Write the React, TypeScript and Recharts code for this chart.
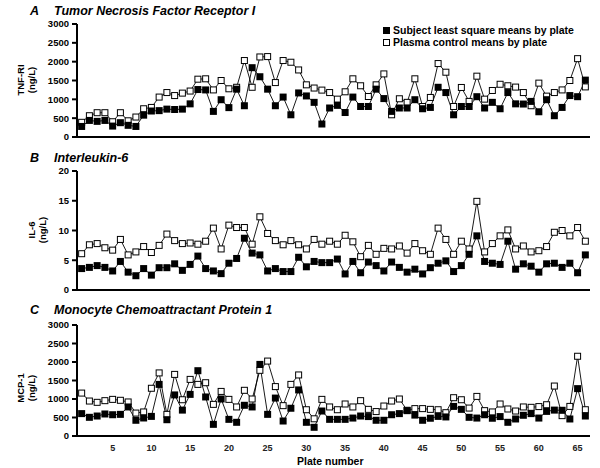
import React from 'react';
import { LineChart, Line, XAxis, YAxis } from 'recharts';

// ─── Data ────────────────────────────────────────────────────────────────────

const plates = Array.from({ length: 66 }, (_, i) => i + 1);

const tnfSubject = [
  280, 440, 415, 440, 290, 380, 310, 280, 580, 690,
  700, 740, 730, 740, 880, 1260, 1250, 680, 990, 780,
  1270, 830, 1840, 1600, 1270, 830, 1060, 590, 1170, 1090,
  920, 345, 770, 840, 650, 1060, 810, 810, 1270, 1020,
  680, 770, 770, 990, 750, 785, 1320, 1180, 590, 810,
  810, 1070, 770, 920, 750, 1180, 880, 875, 945, 670,
  990, 565, 785, 1100, 1070, 1510,
];
const tnfControl = [
  390, 565, 645, 645, 405, 645, 430, 530, 750, 785,
  1060, 1180, 1100, 1165, 1220, 1535, 1545, 1250, 1500, 1280,
  1320, 2030, 1320, 2125, 2135, 1445, 2030, 1985, 1780, 1385,
  1300, 1245, 1180, 1005, 1200, 1545, 1360, 1075, 1385, 1675,
  590, 1015, 920, 1545, 810, 1050, 1950, 1720, 810, 1315,
  945, 1615, 1005, 1235, 1400, 1360, 1325, 1180, 830, 1430,
  1085, 1180, 1250, 1500, 2080, 1330,
];

const il6Subject = [
  3.6, 3.8, 4.1, 3.8, 3.2, 4.8, 3.0, 2.4, 3.6, 2.5,
  3.75, 3.75, 4.4, 3.3, 4.3, 5.7, 3.6, 3.2, 2.75, 4.5,
  5.3, 8.7, 6.2, 5.9, 3.2, 3.6, 3.1, 3.1, 5.5, 3.9,
  4.8, 4.6, 4.6, 5.2, 2.7, 4.8, 2.9, 4.7, 4.1, 3.2,
  4.7, 3.8, 3.0, 3.5, 2.7, 3.75, 4.5, 4.9, 3.1, 4.1,
  6.0, 9.1, 4.8, 4.5, 4.3, 8.2, 3.5, 4.4, 4.0, 3.0,
  4.4, 4.5, 3.8, 4.5, 2.9, 5.9,
];
const il6Control = [
  6.1, 7.6, 7.8, 7.1, 6.7, 8.5, 5.9, 6.4, 7.3, 6.3,
  7.5, 9.4, 8.3, 7.8, 7.9, 7.7, 8.2, 10.4, 6.9, 10.9,
  10.5, 10.5, 7.7, 12.3, 9.5, 8.3, 7.6, 8.3, 7.6, 6.9,
  8.5, 7.7, 8.2, 7.7, 9.2, 8.1, 5.6, 7.5, 6.0, 7.0,
  6.9, 7.4, 6.2, 7.8, 6.6, 6.0, 10.4, 8.5, 6.0, 8.2,
  6.9, 14.9, 6.4, 7.8, 9.1, 10.1, 6.9, 7.4, 6.4, 6.6,
  7.3, 9.7, 10.0, 9.1, 10.5, 8.2,
];

const mcpSubject = [
  605, 505, 540, 595, 575, 585, 785, 425, 487, 530,
  1395, 440, 1110, 700, 1125, 1765, 1055, 315, 1000, 450,
  370, 830, 785, 1935, 585, 1025, 405, 750, 1245, 370,
  235, 675, 450, 450, 450, 485, 540, 525, 425, 425,
  575, 605, 685, 565, 425, 480, 530, 515, 800, 720,
  505, 485, 575, 480, 525, 370, 460, 560, 605, 485,
  665, 700, 695, 460, 1280, 540,
];
const mcpControl = [
  1160, 945, 910, 955, 990, 965, 920, 620, 650, 1290,
  1705, 585, 1665, 980, 1530, 1395, 1440, 855, 1205, 990,
  785, 1235, 1000, 1775, 2025, 1335, 820, 1395, 1650, 710,
  465, 990, 785, 710, 865, 785, 955, 720, 660, 810,
  945, 1000, 695, 740, 740, 720, 710, 630, 1035, 980,
  755, 1070, 685, 650, 865, 730, 675, 785, 775, 795,
  845, 1350, 550, 800, 2155, 710,
];

const ticks3000 = [0, 500, 1000, 1500, 2000, 2500, 3000];
const ticks20 = [0, 5, 10, 15, 20];
const plateTicks = [5, 10, 15, 20, 25, 30, 35, 40, 45, 50, 55, 60, 65];

const FONT = '"Liberation Sans", Arial, sans-serif';

// ─── Square markers ──────────────────────────────────────────────────────────

const FilledDot = (props: any) => {
  const { cx, cy, index } = props;
  if (cx == null || cy == null) return <g key={`f-${index}`} />;
  return <rect key={`f-${index}`} x={cx - 3.5} y={cy - 3.5} width={7} height={7} fill="#000" />;
};

const OpenDot = (props: any) => {
  const { cx, cy, index } = props;
  if (cx == null || cy == null) return <g key={`o-${index}`} />;
  return (
    <rect key={`o-${index}`} x={cx - 3} y={cy - 3} width={6} height={6}
      fill="#fff" stroke="#000" strokeWidth={1} />
  );
};

// ─── One panel ───────────────────────────────────────────────────────────────

interface PanelProps {
  top: number;
  height: number;
  marginTop: number;
  marginBottom: number;
  subject: number[];
  control: number[];
  yMax: number;
  yTicks: number[];
  showX?: boolean;
}

function Panel({ top, height, marginTop, marginBottom, subject, control, yMax, yTicks, showX }: PanelProps) {
  const data = plates.map((p, i) => ({ plate: p, subject: subject[i], control: control[i] }));
  return (
    <div style={{ position: 'absolute', left: 0, top }}>
      <LineChart width={600} height={height} data={data}
        margin={{ top: marginTop, right: 10, bottom: marginBottom, left: 37 }}>
        <XAxis
          dataKey="plate"
          type="number"
          domain={[0.4, 66.6]}
          allowDataOverflow
          ticks={showX ? plateTicks : []}
          tick={showX ? { fill: '#222', fontSize: 9, fontWeight: 700, fontFamily: FONT } : false}
          tickLine={false}
          tickSize={0}
          tickMargin={9}
          height={showX ? 20 : 5}
          axisLine={{ stroke: '#000', strokeWidth: 2 }}
        />
        <YAxis
          domain={[0, yMax]}
          ticks={yTicks}
          width={40}
          tickSize={5}
          tickMargin={3}
          tick={{ fill: '#000', fontSize: 9.5, fontWeight: 700, fontFamily: FONT }}
          tickLine={{ stroke: '#000', strokeWidth: 2 }}
          axisLine={{ stroke: '#000', strokeWidth: 2 }}
        />
        <Line dataKey="control" stroke="#000" strokeWidth={0.9} dot={OpenDot}
          activeDot={false} isAnimationActive={false} />
        <Line dataKey="subject" stroke="#000" strokeWidth={0.9} dot={FilledDot}
          activeDot={false} isAnimationActive={false} />
      </LineChart>
    </div>
  );
}

// ─── Text helpers ────────────────────────────────────────────────────────────

const titleStyle: React.CSSProperties = {
  position: 'absolute', fontFamily: FONT, fontWeight: 700, fontStyle: 'italic',
  fontSize: 12.5, color: '#000', whiteSpace: 'nowrap', lineHeight: 1,
};

function Title({ letter, text, top }: { letter: string; text: string; top: number }) {
  return (
    <>
      <div style={{ ...titleStyle, left: 30, top }}>{letter}</div>
      <div style={{ ...titleStyle, left: 54, top }}>{text}</div>
    </>
  );
}

function YLabel({ line1, cx, cy }: { line1: string; cx: number; cy: number }) {
  return (
    <div style={{
      position: 'absolute', left: cx, top: cy, transform: 'translate(-50%, -50%) rotate(-90deg)',
      fontFamily: FONT, fontWeight: 700, fontSize: 9.5, lineHeight: '10.5px',
      textAlign: 'center', whiteSpace: 'nowrap', color: '#000',
    }}>
      <div>{line1}</div>
      <div>(ng/L)</div>
    </div>
  );
}

const legendText: React.CSSProperties = {
  position: 'absolute', left: 393, fontFamily: FONT, fontWeight: 700, fontSize: 10.5,
  lineHeight: 1, whiteSpace: 'nowrap', color: '#000',
};

export default function App() {
  return (
    <div style={{ position: 'absolute', left: 0, top: 0, width: 600, height: 468, background: '#fff', overflow: 'hidden' }}>
      <Panel top={0} height={150} marginTop={24} marginBottom={8}
        subject={tnfSubject} control={tnfControl} yMax={3000} yTicks={ticks3000} />
      <Panel top={150} height={155} marginTop={21} marginBottom={10}
        subject={il6Subject} control={il6Control} yMax={20} yTicks={ticks20} />
      <Panel top={305} height={163} marginTop={20} marginBottom={12}
        subject={mcpSubject} control={mcpControl} yMax={3000} yTicks={ticks3000} showX />

      <Title letter="A" text="Tumor Necrosis Factor Receptor I" top={5} />
      <Title letter="B" text="Interleukin-6" top={152} />
      <Title letter="C" text="Monocyte Chemoattractant Protein 1" top={304} />

      <YLabel line1="TNF-RI" cx={26} cy={80} />
      <YLabel line1="IL-6" cx={37} cy={230} />
      <YLabel line1="MCP-1" cx={26} cy={388} />

      {/* Legend */}
      <div style={{ position: 'absolute', left: 383, top: 27, width: 7, height: 7, background: '#000' }} />
      <div style={{ ...legendText, top: 25 }}>Subject least square means by plate</div>
      <div style={{ position: 'absolute', left: 383, top: 39, width: 5, height: 5, border: '1px solid #000', background: '#fff' }} />
      <div style={{ ...legendText, top: 37 }}>Plasma control means by plate</div>

      <div style={{
        position: 'absolute', left: 297, top: 456, fontFamily: FONT, fontWeight: 700,
        fontSize: 10.5, lineHeight: 1, whiteSpace: 'nowrap', color: '#000',
      }}>Plate number</div>
    </div>
  );
}
